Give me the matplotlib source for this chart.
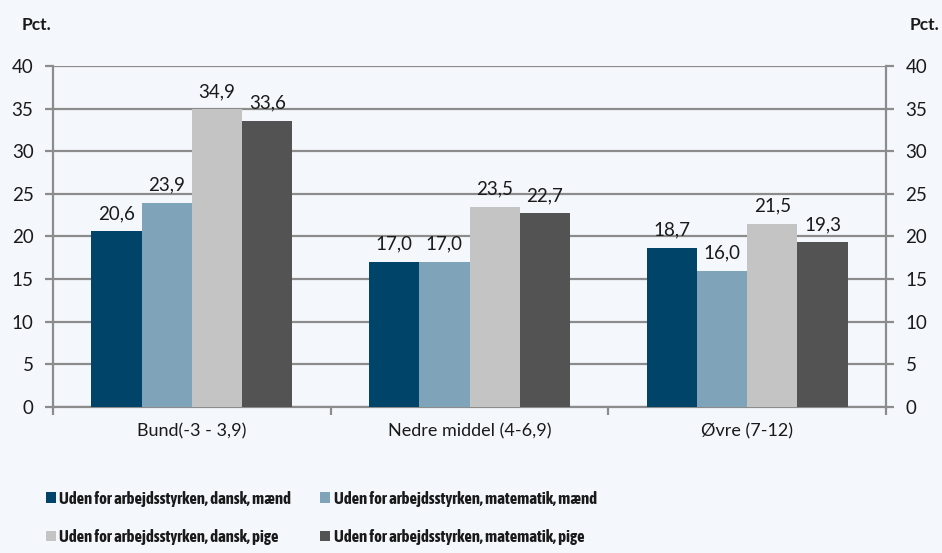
import numpy as np
import matplotlib
matplotlib.use("Agg")
import matplotlib.pyplot as plt
from matplotlib.patches import Patch

categories = ["Bund(-3 - 3,9)", "Nedre middel (4-6,9)", "Øvre (7-12)"]
series_names = [
    "Uden for arbejdsstyrken, dansk, mænd",
    "Uden for arbejdsstyrken, matematik, mænd",
    "Uden for arbejdsstyrken, dansk, pige",
    "Uden for arbejdsstyrken, matematik, pige",
]
dansk_maend = [20.6, 17.0, 18.7]
mat_maend = [23.9, 17.0, 16.0]
dansk_pige = [34.9, 23.5, 21.5]
mat_pige = [33.6, 22.7, 19.3]
yticks = [0, 5, 10, 15, 20, 25, 30, 35, 40]

series = [dansk_maend, mat_maend, dansk_pige, mat_pige]
colors = ["#004469", "#7fa3b9", "#c4c4c4", "#535353"]
bg = "#f4f8fc"
grid_col = "#8c8c8c"

plt.rcParams['font.family'] = ['Lato', 'DejaVu Sans']

fig = plt.figure(figsize=(9.42, 5.53), dpi=100, facecolor=bg)
ax = fig.add_axes([0.0563, 0.264, 0.8843, 0.6167])
ax.set_facecolor(bg)

x = np.arange(len(categories))
w = 0.181
for i, (vals, c) in enumerate(zip(series, colors)):
    pos = x + (i - 1.5) * w
    ax.bar(pos, vals, width=w, color=c, zorder=3)
    for p, v in zip(pos, vals):
        ax.text(p, v + 1.1, f"{v:.1f}".replace(".", ","), ha="center", va="bottom",
                fontsize=13.5, color="#1a1a1a", zorder=4)

ax.set_xlim(-0.5, 2.5)
ax.set_ylim(0, 40)
ax.set_yticks(yticks)
ax.yaxis.grid(True, color=grid_col, linewidth=1.6, zorder=1)
ax.set_axisbelow(True)

ax.set_xticks([-0.5, 0.5, 1.5, 2.5])
ax.set_xticklabels([])
ax.set_xticks(x, minor=True)
ax.set_xticklabels(categories, minor=True, fontsize=13, color="#1a1a1a")
ax.tick_params(axis="x", which="major", length=6, width=1.6, color=grid_col, direction="out")
ax.tick_params(axis="x", which="minor", length=0, pad=12)

ax.tick_params(axis="y", which="major", length=6, width=1.6, color=grid_col, direction="out",
               labelsize=13.5, labelcolor="#1a1a1a", left=True, right=True,
               labelleft=True, labelright=True, pad=8)

for s in ["left", "right", "bottom"]:
    ax.spines[s].set_color(grid_col)
    ax.spines[s].set_linewidth(1.6)
ax.spines["top"].set_visible(False)

fig.text(0.023, 0.955, "Pct.", fontsize=12.5, fontweight="bold", color="#1a1a1a", ha="left", va="center")
fig.text(0.997, 0.955, "Pct.", fontsize=12.5, fontweight="bold", color="#1a1a1a", ha="right", va="center")

# legend filled row by row: reorder for column-major filling
order = [0, 2, 1, 3]
handles = [Patch(facecolor=colors[k], edgecolor="none") for k in order]
labels = [series_names[k] for k in order]
leg = fig.legend(handles, labels, loc="upper left", bbox_to_anchor=(0.033, 0.14),
                 ncol=2, frameon=False, handlelength=0.6, handleheight=0.6,
                 handletextpad=0.2, columnspacing=1.75, labelspacing=1.35,
                 prop={"family": ["Asap Condensed", "Lato"], "size": 12, "weight": "bold"})
for t in leg.get_texts():
    t.set_color("#1a1a1a")

fig.savefig("out.png", dpi=100, facecolor=bg)
